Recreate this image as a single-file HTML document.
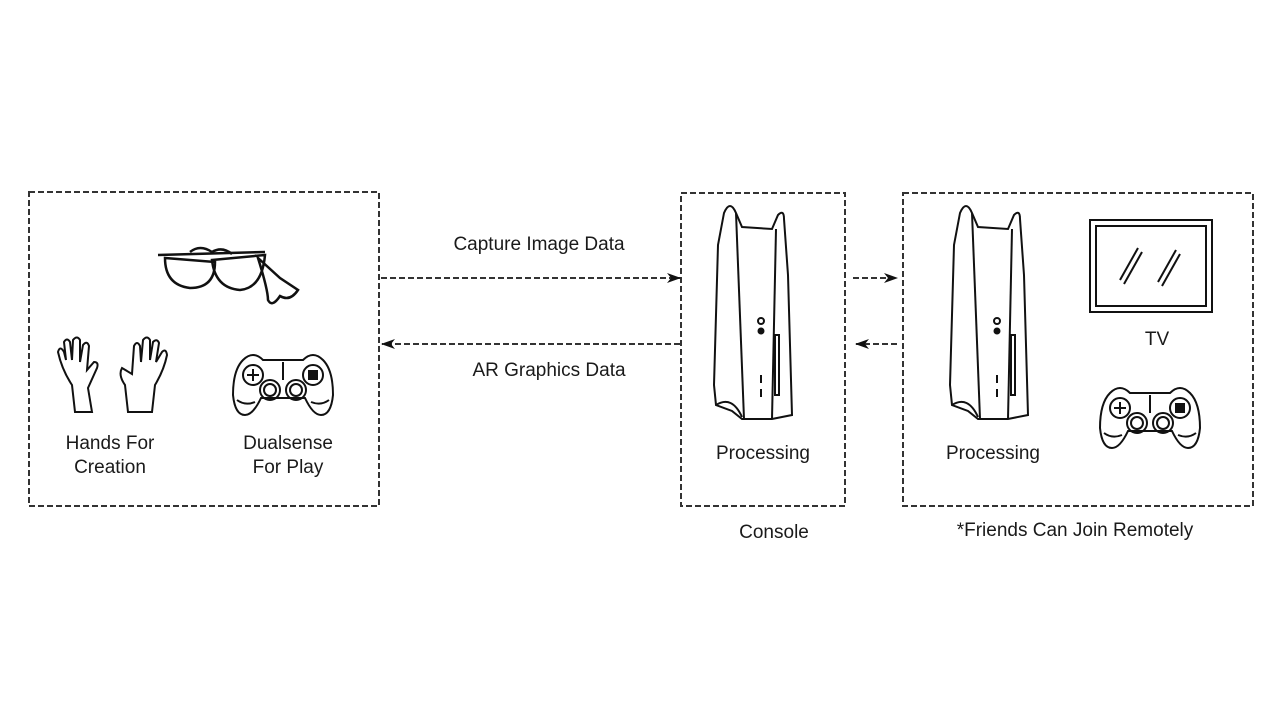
<!DOCTYPE html>
<html><head><meta charset="utf-8"><style>
html,body{margin:0;padding:0;background:#fff;}
svg{display:block}
text{font-family:"Liberation Sans",sans-serif;font-size:19px;fill:#1a1a1a}
</style></head><body>
<svg width="1280" height="720" viewBox="0 0 1280 720">
<defs>
<marker id="ah" markerWidth="14" markerHeight="10" refX="13" refY="5" orient="auto" markerUnits="userSpaceOnUse">
<path d="M0,0 L14,5 L0,10 L4,5 Z" fill="#111"/></marker>
<g id="ctrl" fill="none" stroke="#111" stroke-width="2">
<path d="M10,10 Q20,0 30,10 L70,10 Q80,0 90,10 Q100,20 100,45 Q98,65 88,65 Q80,65 72,48 L28,48 Q20,65 12,65 Q2,65 0,45 Q0,20 10,10 Z"/>
<circle cx="20" cy="25" r="10"/><circle cx="80" cy="25" r="10"/>
<path d="M14,25 h12 M20,19 v12"/>
<circle cx="37" cy="40" r="10"/><circle cx="37" cy="40" r="6"/>
<circle cx="63" cy="40" r="10"/><circle cx="63" cy="40" r="6"/>
<line x1="50" y1="12" x2="50" y2="30"/>
<rect x="76" y="21" width="8" height="8" fill="#111"/>
<path d="M4,50 Q12,56 22,52 M96,50 Q88,56 78,52"/>
</g>
<g id="ps5" fill="none" stroke="#111" stroke-width="2">
<path d="M12,8 Q18,-6 24,8 L30,22 L60,24 L66,10 Q72,4 72,14 L76,70 L80,210 L60,214 L30,214 L20,206 L4,200 L2,180 L6,40 Z"/>
<path d="M24,8 L32,214"/><path d="M64,24 L60,214"/>
<path d="M4,200 Q20,190 30,212"/>
<circle cx="49" cy="116" r="3"/><circle cx="49" cy="126" r="2.5" fill="#111"/>
<line x1="49" y1="170" x2="49" y2="178"/><line x1="49" y1="184" x2="49" y2="192"/>
<rect x="63" y="130" width="4" height="60"/>
</g>
</defs>
<g fill="none" stroke="#333" stroke-width="2" stroke-dasharray="6,3">
<rect x="29" y="192" width="350" height="314"/>
<rect x="681" y="193" width="164" height="313"/>
<rect x="903" y="193" width="350" height="313"/>
<line x1="381" y1="278" x2="680" y2="278" marker-end="url(#ah)"/>
<line x1="680" y1="344" x2="382" y2="344" marker-end="url(#ah)"/>
<line x1="853" y1="278" x2="897" y2="278" marker-end="url(#ah)"/>
<line x1="897" y1="344" x2="856" y2="344" marker-end="url(#ah)"/>
</g>
<!-- glasses -->
<g fill="none" stroke="#111" stroke-width="2.5">
<path d="M158,255 L265,252"/>
<path d="M165,258 Q165,285 190,288 Q215,288 215,262 Z"/>
<path d="M212,260 Q215,288 240,290 Q262,288 265,255 Z"/>
<path d="M190,252 Q200,244 212,252 Q222,246 232,254"/>
<path d="M258,258 Q268,290 268,300 Q272,308 280,296 Q290,302 298,290 L280,278 Z"/>
</g>
<!-- hands -->
<g fill="none" stroke="#111" stroke-width="2">
<path d="M75,412 L72,385 Q62,370 58,352 Q60,345 64,352 L66,360 L64,342 Q67,337 70,342 L72,360 L73,340 Q77,335 80,340 L80,362 L83,345 Q87,340 89,346 L87,370 L94,362 Q99,362 97,368 L88,388 L92,412 Z"/>
<path d="M128,412 L125,385 Q118,375 122,368 L132,374 L134,346 Q137,340 140,346 L141,362 L143,340 Q147,335 150,340 L150,360 L153,342 Q157,338 159,343 L156,362 L162,352 Q166,348 167,355 Q164,370 155,385 L152,412 Z"/>
</g>
<use href="#ctrl" x="233" y="350"/>
<use href="#ctrl" x="1100" y="383"/>
<use href="#ps5" x="712" y="205"/>
<use href="#ps5" x="948" y="205"/>
<g fill="none" stroke="#111" stroke-width="2">
<rect x="1090" y="220" width="122" height="92"/>
<rect x="1096" y="226" width="110" height="80"/>
<line x1="1120" y1="280" x2="1138" y2="248"/><line x1="1124" y1="284" x2="1142" y2="252"/>
<line x1="1158" y1="282" x2="1176" y2="250"/><line x1="1162" y1="286" x2="1180" y2="254"/>
</g>
<text x="539" y="250" text-anchor="middle">Capture Image Data</text>
<text x="549" y="376" text-anchor="middle">AR Graphics Data</text>
<text x="110" y="449" text-anchor="middle">Hands For</text>
<text x="110" y="473" text-anchor="middle">Creation</text>
<text x="288" y="449" text-anchor="middle">Dualsense</text>
<text x="288" y="473" text-anchor="middle">For Play</text>
<text x="763" y="459" text-anchor="middle">Processing</text>
<text x="993" y="459" text-anchor="middle">Processing</text>
<text x="1157" y="345" text-anchor="middle">TV</text>
<text x="774" y="538" text-anchor="middle">Console</text>
<text x="1075" y="536" text-anchor="middle">*Friends Can Join Remotely</text>
</svg>
</body></html>
